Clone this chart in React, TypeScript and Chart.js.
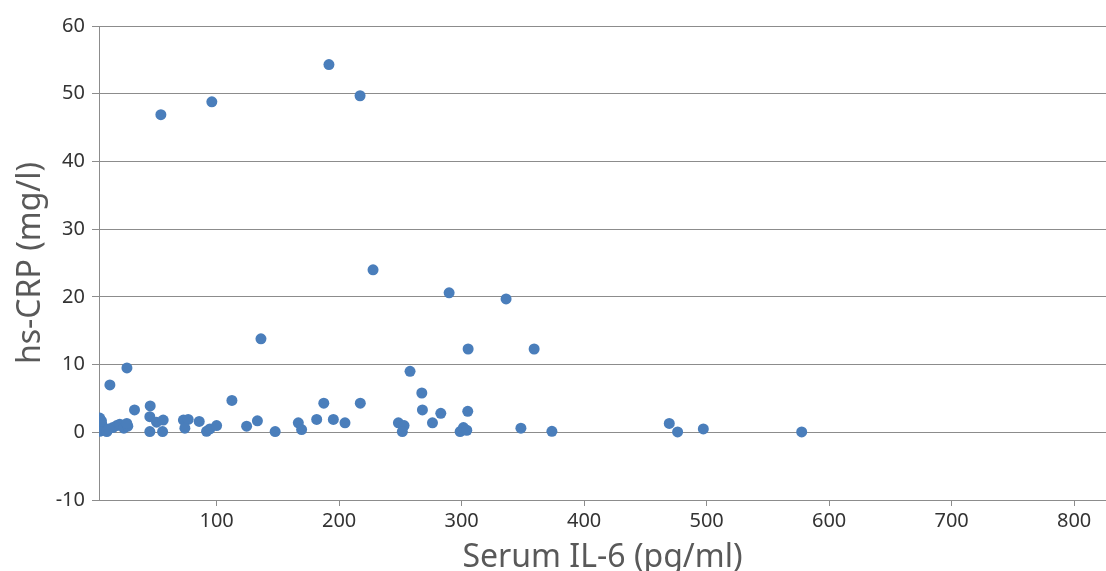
import React, { useEffect, useRef } from "react";
import { Chart, registerables } from "chart.js";

Chart.register(...registerables);

// Serum IL-6 (pg/ml)
const il6: number[] = [
  54.5, 96.1, 191.7, 217.1, 227.7, 289.8, 336.3, 136.2, 305.3, 359.2, 26.8, 257.9, 12.9, 267.5, 112.5, 187.5, 217.3, 33, 268, 45.8, 305, 283,
  166.7, 169.4, 181.7, 195.3, 204.8, 248.4, 253, 251.6, 276.2, 298.8, 301.5, 304.2, 348.4, 373.7, 469.5, 476.3, 497.3, 577.6,
  45.5, 45.5, 51, 56.4, 55.9, 72.9, 76.8, 74.1, 85.8, 91.8, 94.5, 100, 124.5, 133.3, 147.8,
  4.6, 6.3, 8, 4.6, 10.4, 6, 15.3, 18.5, 21, 24.3, 27.5, 26.7, 12,
];
// hs-CRP (mg/l)
const crp: number[] = [
  46.9, 48.8, 54.3, 49.7, 24.0, 20.6, 19.7, 13.8, 12.3, 12.3, 9.5, 9.0, 7.0, 5.8, 4.7, 4.3, 4.3, 3.3, 3.3, 3.9, 3.1, 2.8,
  1.4, 0.4, 1.9, 1.9, 1.4, 1.4, 1.0, 0.1, 1.4, 0.1, 0.7, 0.3, 0.6, 0.15, 1.3, 0.05, 0.5, 0.05,
  2.3, 0.1, 1.5, 1.8, 0.1, 1.8, 1.9, 0.6, 1.6, 0.15, 0.5, 1.0, 0.9, 1.7, 0.1,
  2.1, 1.2, 0.6, 0.15, 0.1, 1.7, 0.7, 1.0, 1.2, 0.6, 0.9, 1.3, 0.5,
];
const xTicks: number[] = [100, 200, 300, 400, 500, 600, 700, 800];
const yTicks: number[] = [-10, 0, 10, 20, 30, 40, 50, 60];

const xTitle = "Serum IL-6 (pg/ml)";
const yTitle = "hs-CRP (mg/l)";

export default function App() {
  const ref = useRef<HTMLCanvasElement | null>(null);
  useEffect(() => {
    if (!ref.current) return;
    const font = "'Noto Sans', 'Open Sans', sans-serif";
    const chart = new Chart(ref.current, {
      type: "scatter",
      data: {
        datasets: [
          {
            data: il6.map((x, i) => ({ x, y: crp[i] })),
            backgroundColor: "#4a7ebb",
            borderWidth: 0,
            pointRadius: 5.5,
          },
        ],
      },
      options: {
        animation: false,
        responsive: false,
        layout: { autoPadding: false, padding: { top: 26, right: 0, left: 0, bottom: 0 } },
        plugins: { legend: { display: false }, tooltip: { enabled: false } },
        scales: {
          x: {
            type: "linear",
            min: 4,
            max: 826,
            afterBuildTicks: (s: any) => {
              s.ticks = xTicks.map((v) => ({ value: v }));
            },
            afterFit: (s: any) => {
              s.height = 71;
            },
            border: { color: "#8c8c8c", width: 1 },
            grid: { drawOnChartArea: false, drawTicks: true, tickLength: 6, color: "#8c8c8c" },
            ticks: { color: "#333333", font: { family: font, size: 20 }, padding: 3, maxRotation: 0 },
            title: {
              display: true,
              text: xTitle,
              color: "#595959",
              font: { family: font, size: 32 },
              padding: { top: 0, bottom: -6 },
            },
          },
          y: {
            type: "linear",
            min: -10,
            max: 60,
            afterBuildTicks: (s: any) => {
              s.ticks = yTicks.map((v) => ({ value: v }));
            },
            afterFit: (s: any) => {
              s.width = 99;
            },
            border: { color: "#8c8c8c", width: 1 },
            grid: { drawOnChartArea: true, drawTicks: true, tickLength: 7, color: "#8c8c8c" },
            ticks: { color: "#333333", font: { family: font, size: 20 }, padding: 7 },
            title: {
              display: true,
              text: yTitle,
              color: "#595959",
              font: { family: font, size: 32 },
              padding: { top: 12, bottom: 0 },
            },
          },
        },
      },
    });
    return () => chart.destroy();
  }, []);
  return (
    <div style={{ position: "fixed", left: 0, top: 0, width: 1106, height: 571, overflow: "hidden", background: "#fff" }}>
      <canvas ref={ref} width={1106} height={571} style={{ display: "block" }} />
    </div>
  );
}
